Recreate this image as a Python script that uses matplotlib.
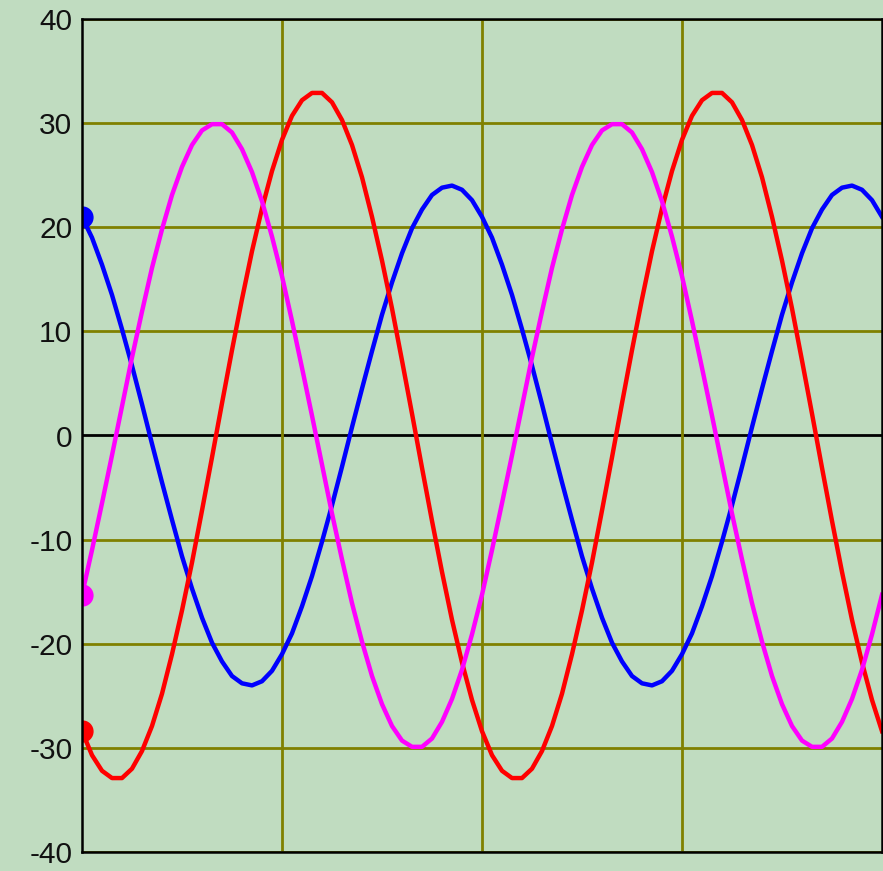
import numpy as np
import matplotlib
matplotlib.use("Agg")
import matplotlib.pyplot as plt

plt.rcParams['font.family'] = ['Liberation Sans', 'DejaVu Sans']
plt.rcParams['axes.unicode_minus'] = False

# sample grid (in grid divisions, 0..4)
t = np.linspace(0, 4, 81)

blue_cycle = [21.0, 19.0, 16.4, 13.5, 10.2, 6.7, 3.0, -0.8, -4.5, -8.1,
              -11.6, -14.7, -17.5, -19.9, -21.7, -23.1, -23.8, -24.0, -23.6, -22.6,
              -21.0, -19.0, -16.4, -13.5, -10.2, -6.7, -3.0, 0.8, 4.5, 8.1,
              11.6, 14.7, 17.5, 19.9, 21.7, 23.1, 23.8, 24.0, 23.6, 22.6]
red_cycle = [-28.4, -30.7, -32.2, -32.9, -32.9, -32.0, -30.3, -27.9, -24.8, -21.0,
             -16.8, -12.2, -7.2, -2.1, 3.1, 8.2, 13.1, 17.7, 21.8, 25.4,
             28.4, 30.7, 32.2, 32.9, 32.9, 32.0, 30.3, 27.9, 24.8, 21.0,
             16.8, 12.2, 7.2, 2.1, -3.1, -8.2, -13.1, -17.7, -21.8, -25.4]
magenta_cycle = [-15.3, -11.0, -6.5, -1.9, 2.8, 7.5, 11.9, 16.1, 19.8, 23.1,
                 25.8, 27.9, 29.3, 29.9, 29.9, 29.1, 27.5, 25.3, 22.5, 19.1,
                 15.3, 11.0, 6.5, 1.9, -2.8, -7.5, -11.9, -16.1, -19.8, -23.1,
                 -25.8, -27.9, -29.3, -29.9, -29.9, -29.1, -27.5, -25.3, -22.5, -19.1]

blue = blue_cycle + blue_cycle + [blue_cycle[0]]
red = red_cycle + red_cycle + [red_cycle[0]]
magenta = magenta_cycle + magenta_cycle + [magenta_cycle[0]]

yticks = [-40, -30, -20, -10, 0, 10, 20, 30, 40]
xgrid = [0, 1, 2, 3, 4]

bg = '#C0DCC0'
fig = plt.figure(figsize=(8.83, 8.71), dpi=100, facecolor=bg)
ax = fig.add_axes([82/883, 19/871, 800/883, 833/871])
ax.set_facecolor(bg)

ax.set_xlim(0, 4)
ax.set_ylim(-40, 40)

for y in yticks:
    if y == 0:
        ax.axhline(y, color='black', lw=2.0, zorder=1)
    else:
        ax.axhline(y, color='#808000', lw=2.0, zorder=1)
for x in xgrid[1:-1]:
    ax.axvline(x, color='#808000', lw=2.0, zorder=1)

for vals, col in [(blue, '#0000FF'), (red, '#FF0000'), (magenta, '#FF00FF')]:
    ax.plot(t, vals, color=col, lw=3.2, zorder=3, solid_joinstyle='round')
    ax.plot(t[0], vals[0], 'o', color=col, ms=15, zorder=4, clip_on=True)

ax.set_yticks(yticks)
ax.set_yticklabels([str(v) for v in yticks])
ax.set_xticks([])
ax.tick_params(axis='y', length=0, pad=7, labelsize=21.5, labelcolor='#111111')

for s in ax.spines.values():
    s.set_color('black')
    s.set_linewidth(1.8)
    s.set_zorder(5)

fig.savefig('out.png', dpi=100, facecolor=bg)
